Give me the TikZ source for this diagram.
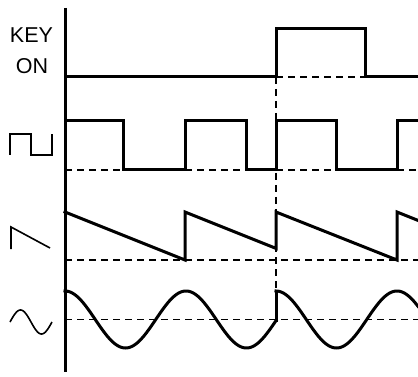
\documentclass[tikz,border=0pt]{standalone}
\usepackage{fontspec}
\setmainfont{Liberation Sans}
\begin{document}
\begin{tikzpicture}[x=1pt,y=-1pt,
  wave/.style={line width=3pt,line join=miter,line cap=rect},
  base/.style={line width=1.5pt,dash pattern=on 7pt off 5pt},
  icon/.style={line width=1.6pt,line join=miter},
  lbl/.style={font=\fontsize{21.5pt}{24pt}\selectfont,inner sep=0pt}]
\useasboundingbox (0,0) rectangle (418,377);
% labels
\node[lbl] (key) at (31.5,35.5) {KEY};
\node[lbl] (on) at (32,66.5) {ON};
% icons
\draw[icon] (10,155) -- (10,134) -- (31,134) -- (31,155) -- (52,155) -- (52,134);
\draw[icon] (11,249) -- (11,227) -- (50,248);
\draw[icon,domain=0:42,samples=50,smooth] plot ({10+\x},{322-12*sin(8.5714*\x)});
% axis
\draw[line width=3pt] (65,8) -- (65,372);
% dashed baselines
\draw[base] (276,77) -- (365,77);
\draw[base] (65,170) -- (123,170);
\draw[base] (185,170) -- (246,170);
\draw[base] (276,170) -- (336,170);
\draw[base] (397,170) -- (418,170);
\draw[base] (65,260) -- (418,260);
\draw[base] (65,319.5) -- (418,319.5);
\draw[base] (276,77) -- (276,319.5);
% key on
\draw[wave] (65,77) -- (276,77) -- (276,29) -- (365,29) -- (365,77) -- (418,77);
% square
\draw[wave] (65,121) -- (123,121) -- (123,170) -- (185,170) -- (185,121) -- (246,121) -- (246,170) -- (276,170) -- (276,121) -- (336,121) -- (336,170) -- (397,170) -- (397,121) -- (418,121);
% saw
\draw[wave] (65,212) -- (185,260) -- (185,212) -- (276,248.4) -- (276,212) -- (397,260) -- (397,212) -- (418,220.4);
% sine
\draw[wave,domain=65:276,samples=120,smooth] plot (\x,{319.5-28.5*cos(2.97521*(\x-65))});
\draw[wave] (276,{319.5-28.5*cos(627.77)}) -- (276,291);
\draw[wave,domain=276:418,samples=90,smooth] plot (\x,{319.5-28.5*cos(2.97521*(\x-276))});
\end{tikzpicture}
\end{document}
